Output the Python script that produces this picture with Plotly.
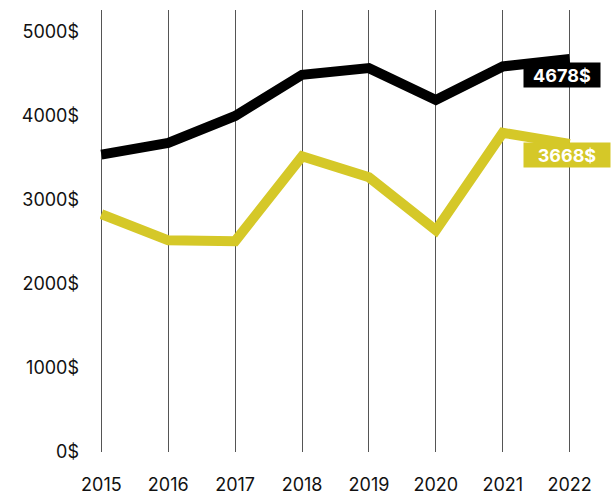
import plotly.graph_objects as go

years = [2015, 2016, 2017, 2018, 2019, 2020, 2021, 2022]
black_values = [3540, 3680, 4000, 4490, 4570, 4190, 4590, 4678]
yellow_values = [2830, 2520, 2510, 3520, 3270, 2640, 3800, 3668]
y_ticks = [0, 1000, 2000, 3000, 4000, 5000]
y_tick_labels = ["0$", "1000$", "2000$", "3000$", "4000$", "5000$"]

BLACK = "#000000"
YELLOW = "#d5c828"
FONT = "Inter"

fig = go.Figure()
fig.add_trace(go.Scatter(x=years, y=yellow_values, mode="lines",
                         line=dict(color=YELLOW, width=10), cliponaxis=False,
                         hoverinfo="skip"))
fig.add_trace(go.Scatter(x=years, y=black_values, mode="lines",
                         line=dict(color=BLACK, width=10), cliponaxis=False,
                         hoverinfo="skip"))

# End-of-line value badges
fig.add_annotation(x=years[-1], y=black_values[-1], text=f"<b>{black_values[-1]}$</b>",
                   showarrow=False, xshift=-8, yshift=-16, bgcolor=BLACK,
                   font=dict(family=FONT, size=18, color="white"),
                   width=72, height=20, borderpad=2)
fig.add_annotation(x=years[-1], y=yellow_values[-1], text=f"<b>{yellow_values[-1]}$</b>",
                   showarrow=False, xshift=-3, yshift=-11, bgcolor=YELLOW,
                   font=dict(family=FONT, size=18, color="white"),
                   width=82, height=20, borderpad=2)

fig.update_layout(
    width=611, height=495,
    margin=dict(l=100, r=40, t=10, b=43, autoexpand=False),
    plot_bgcolor="white", paper_bgcolor="white",
    showlegend=False,
    font=dict(family=FONT, size=18, color="#111111"),
    xaxis=dict(range=[2014.98, 2022.02], tickmode="array", tickvals=years,
               ticktext=[str(y) for y in years], showgrid=True,
               gridcolor="#555555", gridwidth=1, zeroline=False, showline=False,
               ticks="", ticklabelstandoff=20, automargin=False, fixedrange=True),
    yaxis=dict(range=[0, 5262], tickmode="array", tickvals=y_ticks,
               ticktext=y_tick_labels, showgrid=False, zeroline=False,
               showline=False, ticks="", ticklabelstandoff=20, automargin=False,
               fixedrange=True),
)

fig.write_html("out.html")
